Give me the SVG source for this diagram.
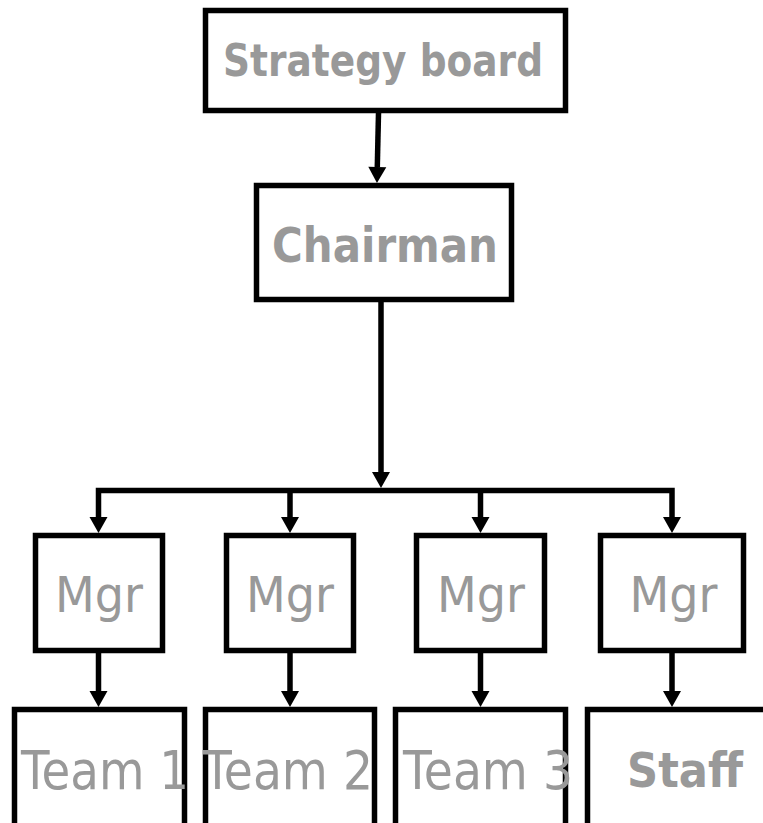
<svg xmlns="http://www.w3.org/2000/svg" width="763" height="823" viewBox="0 0 763 823">
  <style>
    .box { fill: #ffffff; stroke: #000000; stroke-width: 5.5; }
    .wire { fill: none; stroke: #000000; stroke-width: 5.5; stroke-linejoin: miter; }
    .lbl { fill: #999999; font-family: "DejaVu Sans", Verdana, sans-serif; text-anchor: middle; }
    .bold { font-weight: bold; }
  </style>
  <defs>
    <marker id="head" markerUnits="userSpaceOnUse" viewBox="0 0 16 18" markerWidth="16" markerHeight="18" refX="0" refY="9" orient="auto-start-reverse" overflow="visible">
      <path d="M0,0 L16,9 L0,18 z" fill="#000000"/>
    </marker>
  </defs>
  <rect x="0" y="0" width="763" height="823" fill="#ffffff"/>

  <!-- connectors -->
  <g id="connectors">
    <path class="wire" d="M378.5,113 L377.3,167" marker-end="url(#head)"/>
    <path class="wire" d="M381,302 V472" marker-end="url(#head)"/>
    <!-- distribution bar with the two outer drops -->
    <path class="wire" d="M98.5,517 V490.5 H672 V517" marker-start="url(#head)" marker-end="url(#head)"/>
    <path class="wire" d="M290,490.5 V517" marker-end="url(#head)"/>
    <path class="wire" d="M480.5,490.5 V517" marker-end="url(#head)"/>
    <!-- manager to team links -->
    <path class="wire" d="M98.5,653 V691" marker-end="url(#head)"/>
    <path class="wire" d="M290,653 V691" marker-end="url(#head)"/>
    <path class="wire" d="M480.5,653 V691" marker-end="url(#head)"/>
    <path class="wire" d="M672,653 V691" marker-end="url(#head)"/>
  </g>

  <g id="strategy-board">
    <rect class="box" x="205.5" y="10.5" width="360" height="100"/>
    <text class="lbl bold" x="383" y="76" font-size="45" textLength="320" lengthAdjust="spacingAndGlyphs">Strategy board</text>
  </g>

  <g id="chairman">
    <rect class="box" x="256.5" y="185.5" width="255" height="114"/>
    <text class="lbl bold" x="385" y="262" font-size="48" textLength="226" lengthAdjust="spacingAndGlyphs">Chairman</text>
  </g>

  <g id="mgr-1">
    <rect class="box" x="35.5" y="535.5" width="127" height="115"/>
    <text class="lbl" x="99" y="612" font-size="49" textLength="88" lengthAdjust="spacingAndGlyphs">Mgr</text>
  </g>
  <g id="mgr-2">
    <rect class="box" x="226.5" y="535.5" width="127" height="115"/>
    <text class="lbl" x="290" y="612" font-size="49" textLength="88" lengthAdjust="spacingAndGlyphs">Mgr</text>
  </g>
  <g id="mgr-3">
    <rect class="box" x="416.5" y="535.5" width="128" height="115"/>
    <text class="lbl" x="481" y="612" font-size="49" textLength="88" lengthAdjust="spacingAndGlyphs">Mgr</text>
  </g>
  <g id="mgr-4">
    <rect class="box" x="600.5" y="535.5" width="143" height="115"/>
    <text class="lbl" x="673.5" y="612" font-size="49" textLength="88" lengthAdjust="spacingAndGlyphs">Mgr</text>
  </g>

  <g id="team-1">
    <rect class="box" x="14.5" y="709.5" width="170" height="200"/>
    <text class="lbl" x="105" y="789" font-size="53" textLength="168" lengthAdjust="spacingAndGlyphs">Team 1</text>
  </g>
  <g id="team-2">
    <rect class="box" x="205.5" y="709.5" width="169" height="200"/>
    <text class="lbl" x="288" y="789" font-size="53" textLength="170" lengthAdjust="spacingAndGlyphs">Team 2</text>
  </g>
  <g id="team-3">
    <rect class="box" x="395.5" y="709.5" width="170" height="200"/>
    <text class="lbl" x="488" y="789" font-size="53" textLength="170" lengthAdjust="spacingAndGlyphs">Team 3</text>
  </g>
  <g id="staff">
    <rect class="box" x="587.5" y="709.5" width="220" height="200"/>
    <text class="lbl bold" x="685" y="787" font-size="48" textLength="116" lengthAdjust="spacingAndGlyphs">Staff</text>
  </g>
</svg>
